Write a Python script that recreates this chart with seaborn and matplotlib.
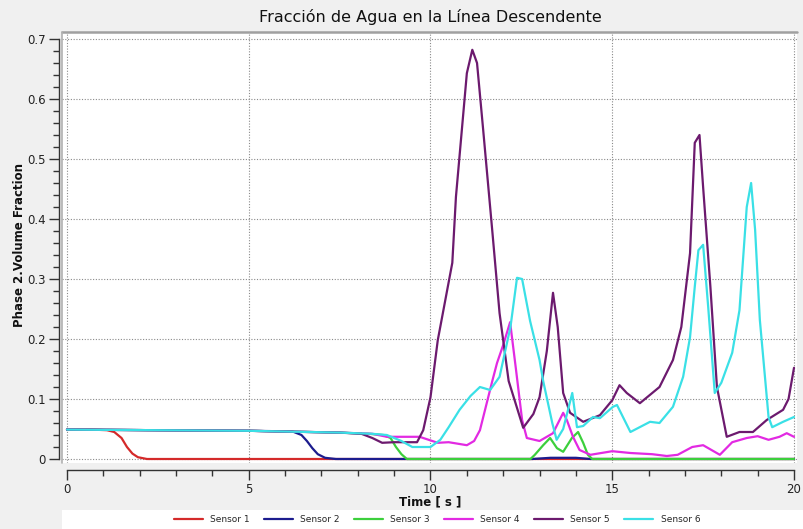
from matplotlib import pyplot as plt
from matplotlib.patches import Rectangle
from matplotlib.ticker import MultipleLocator
import seaborn as sns
import numpy as np
import pandas as pd

# values
t1 = [0, 0.7, 1.1, 1.3, 1.5, 1.65, 1.8, 1.95, 2.2, 20]
v1 = [0.049, 0.049, 0.048, 0.045, 0.035, 0.02, 0.009, 0.003, 0.0, 0.0]

t2 = [0, 5, 6.2, 6.45, 6.6, 6.75, 6.9, 7.1, 7.4, 12.8, 13.3, 14.0, 14.4, 20]
v2 = [0.049, 0.047, 0.046, 0.04, 0.03, 0.018, 0.008, 0.002, 0, 0, 0.002, 0.002, 0, 0]

t3 = [0, 5, 7.5, 8.3, 8.7, 8.9, 9.05, 9.2, 9.35, 12.75, 12.87, 13.1, 13.29, 13.48, 13.65,
      13.89, 14.06, 14.2, 14.33, 14.45, 20]
v3 = [0.049, 0.047, 0.044, 0.042, 0.04, 0.035, 0.02, 0.008, 0, 0, 0.007, 0.023, 0.035, 0.018, 0.012,
      0.035, 0.045, 0.027, 0.007, 0.0, 0.0]

t4 = [0, 5, 7.5, 8.4, 8.8, 9.7, 10.2, 10.5, 11.0, 11.2, 11.36, 11.7, 11.83, 12.0, 12.19, 12.35,
      12.52, 12.65, 13.0, 13.37, 13.65, 13.75, 13.92, 14.1, 14.4, 15.0, 15.5, 16.1, 16.5, 16.8,
      17.2, 17.5, 17.96, 18.3, 18.7, 19.0, 19.3, 19.6, 19.8, 20]
v4 = [0.049, 0.047, 0.044, 0.042, 0.037, 0.037, 0.027, 0.028, 0.023, 0.03, 0.048, 0.13, 0.16, 0.19,
      0.228, 0.15, 0.065, 0.035, 0.03, 0.043, 0.077, 0.065, 0.037, 0.015, 0.007, 0.013, 0.01, 0.008,
      0.005, 0.007, 0.02, 0.023, 0.007, 0.028, 0.035, 0.038, 0.032, 0.037, 0.043, 0.037]

t5 = [0, 5, 7.5, 8.1, 8.4, 8.67, 9.0, 9.63, 9.8, 10.0, 10.2, 10.6, 10.7, 11.0, 11.15, 11.28, 11.45,
      11.7, 11.9, 12.15, 12.55, 12.83, 13.0, 13.2, 13.37, 13.5, 13.65, 13.84, 14.2, 14.66, 15.0,
      15.2, 15.4, 15.76, 16.3, 16.67, 16.9, 17.14, 17.27, 17.4, 17.5, 17.7, 17.88, 18.15, 18.5,
      18.87, 19.25, 19.7, 19.85, 20]
v5 = [0.049, 0.047, 0.044, 0.042, 0.035, 0.027, 0.028, 0.028, 0.048, 0.103, 0.198, 0.327, 0.437,
      0.643, 0.682, 0.66, 0.548, 0.38, 0.243, 0.13, 0.052, 0.075, 0.103, 0.18, 0.277, 0.22, 0.11,
      0.077, 0.062, 0.073, 0.098, 0.123, 0.11, 0.093, 0.12, 0.165, 0.22, 0.343, 0.527, 0.54, 0.453,
      0.287, 0.12, 0.037, 0.045, 0.045, 0.065, 0.082, 0.1, 0.152]

t6 = [0, 5, 7.5, 8.4, 8.8, 9.2, 9.5, 10.0, 10.27, 10.5, 10.8, 11.1, 11.36, 11.64, 11.9, 12.2,
      12.38, 12.52, 12.74, 13.0, 13.1, 13.35, 13.47, 13.65, 13.9, 14.03, 14.2, 14.47, 14.66, 15.02,
      15.13, 15.5, 16.04, 16.3, 16.67, 16.95, 17.14, 17.27, 17.37, 17.5, 17.64, 17.82, 18.0, 18.3,
      18.5, 18.7, 18.82, 18.93, 19.06, 19.3, 19.4, 19.7, 20]
v6 = [0.049, 0.047, 0.044, 0.042, 0.04, 0.03, 0.02, 0.02, 0.032, 0.053, 0.082, 0.105, 0.12, 0.115,
      0.137, 0.22, 0.302, 0.3, 0.23, 0.165, 0.13, 0.06, 0.032, 0.05, 0.11, 0.053, 0.055, 0.07, 0.068,
      0.087, 0.09, 0.045, 0.062, 0.06, 0.087, 0.137, 0.203, 0.287, 0.348, 0.357, 0.253, 0.11, 0.127,
      0.177, 0.248, 0.42, 0.46, 0.382, 0.232, 0.07, 0.053, 0.062, 0.07]

sensors = ["Sensor 1", "Sensor 2", "Sensor 3", "Sensor 4", "Sensor 5", "Sensor 6"]
times = [t1, t2, t3, t4, t5, t6]
values = [v1, v2, v3, v4, v5, v6]

x_ticks = [0, 5, 10, 15, 20]
y_ticks = [0, 0.1, 0.2, 0.3, 0.4, 0.5, 0.6, 0.7]
y_labels = ["0", "0.1", "0.2", "0.3", "0.4", "0.5", "0.6", "0.7"]

df = pd.concat([pd.DataFrame({"time": t, "fraction": v, "sensor": s})
                for s, t, v in zip(sensors, times, values)], ignore_index=True)

palette = {"Sensor 1": "#d42a2a", "Sensor 2": "#1c1c8e", "Sensor 3": "#3ccf3c",
           "Sensor 4": "#e22ae2", "Sensor 5": "#6c1a6e", "Sensor 6": "#3ae0e6"}

sns.set_style('white')
plt.rcParams['font.family'] = ['DejaVu Sans']

W, H = 804, 529
fig = plt.figure(figsize=(W / 100, H / 100), dpi=100, facecolor='#f0f0f0')
ax = fig.add_axes([62 / W, 1 - 463 / H, (797 - 62) / W, (463 - 32) / H])
ax.set_facecolor('white')

sns.lineplot(data=df, x="time", y="fraction", hue="sensor", palette=palette,
             estimator=None, sort=False, lw=1.6, ax=ax)

ax.set_xlim(-5 / 36.35, 20 + 3 / 36.35)
ax.set_ylim(-4 / 600, 0.7 + 7 / 600)

# grid
ax.grid(True, which='major', linestyle=(0, (1, 1.5)), color='#8a8a8a', lw=0.8)

# offset scales like the original viewer
for side in ['top', 'right']:
    ax.spines[side].set_visible(False)
ax.spines['left'].set_position(('outward', 2))
ax.spines['bottom'].set_position(('outward', 5))
ax.spines['left'].set_bounds(0, 0.7)
ax.spines['bottom'].set_bounds(0, 20)
for side in ['left', 'bottom']:
    ax.spines[side].set_color('#333333')
    ax.spines[side].set_linewidth(1.0)

ax.set_xticks(x_ticks)
ax.set_xticklabels([str(v) for v in x_ticks])
ax.set_yticks(y_ticks)
ax.set_yticklabels(y_labels)
ax.xaxis.set_minor_locator(MultipleLocator(1))
ax.yaxis.set_minor_locator(MultipleLocator(0.02))
ax.tick_params(axis='both', which='major', direction='out', length=7.5, width=1,
               color='#333333', labelsize=8.5, labelcolor='#222222', pad=2,
               left=True, bottom=True)
ax.tick_params(axis='both', which='minor', direction='out', length=4, width=1,
               color='#333333', left=True, bottom=True)
ax.set_xlabel("")
ax.set_ylabel("")

# canvas frame
ax.plot([0, 1], [1, 1], transform=ax.transAxes, color='#a0a0a0', lw=1.8, clip_on=False)
ax.plot([0, 0], [0, 1], transform=ax.transAxes, color='#b0b0b0', lw=1.2, clip_on=False)

# texts
fig.text(430 / W, 1 - 17 / H, "Fracción de Agua en la Línea Descendente",
         ha='center', va='center', fontsize=11.5, color='#111111')
fig.text(430 / W, 1 - 502 / H, "Time [ s ]", ha='center', va='center',
         fontsize=8.5, fontweight='bold', color='#111111')
fig.text(20 / W, 1 - 245 / H, "Phase 2.Volume Fraction", ha='center', va='center',
         rotation=90, fontsize=8.5, fontweight='bold', color='#111111')

# legend strip
fig.patches.append(Rectangle((62 / W, 0), 1 - 62 / W, 19 / H, transform=fig.transFigure,
                             facecolor='white', edgecolor='none', zorder=0))
handles, labels = ax.get_legend_handles_labels()
ax.legend_.remove()
fig.legend(handles, labels, loc='center', bbox_to_anchor=(437 / W, 1 - 519.5 / H),
           ncol=6, frameon=False, fontsize=6.5, handlelength=3.2, columnspacing=1.6,
           handletextpad=0.8, borderpad=0)

fig.savefig("out.png", dpi=100, facecolor=fig.get_facecolor())
